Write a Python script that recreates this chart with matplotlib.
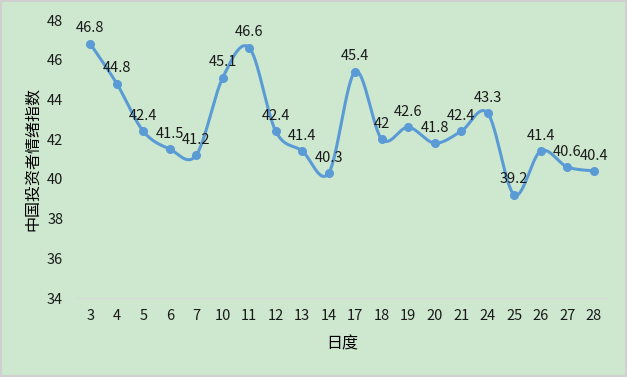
import numpy as np
import matplotlib.pyplot as plt
from matplotlib.patches import Rectangle

plt.rcParams['font.family'] = ['Noto Sans CJK SC', 'DejaVu Sans']

# 数据
days = ['3', '4', '5', '6', '7', '10', '11', '12', '13', '14',
        '17', '18', '19', '20', '21', '24', '25', '26', '27', '28']
values = [46.8, 44.8, 42.4, 41.5, 41.2, 45.1, 46.6, 42.4, 41.4, 40.3,
          45.4, 42, 42.6, 41.8, 42.4, 43.3, 39.2, 41.4, 40.6, 40.4]
yticks = [34, 36, 38, 40, 42, 44, 46, 48]

bg = '#cde8cf'
blue = '#5b9bd5'


def smooth(x, y, n=30):
    # Catmull-Rom 样式的平滑曲线（类似 Excel 平滑线）
    x = np.asarray(x, float)
    y = np.asarray(y, float)
    px = np.concatenate([[x[0]], x, [x[-1]]])
    py = np.concatenate([[y[0]], y, [y[-1]]])
    xs, ys = [], []
    t = np.linspace(0, 1, n)
    for i in range(1, len(px) - 2):
        p0 = np.array([px[i], py[i]])
        p3 = np.array([px[i + 1], py[i + 1]])
        p1 = p0 + (np.array([px[i + 1], py[i + 1]]) - np.array([px[i - 1], py[i - 1]])) / 6
        p2 = p3 - (np.array([px[i + 2], py[i + 2]]) - np.array([px[i], py[i]])) / 6
        b = ((1 - t) ** 3)[:, None] * p0 + (3 * (1 - t) ** 2 * t)[:, None] * p1 \
            + (3 * (1 - t) * t ** 2)[:, None] * p2 + (t ** 3)[:, None] * p3
        xs.extend(b[:, 0])
        ys.extend(b[:, 1])
    return np.array(xs), np.array(ys)


fig = plt.figure(figsize=(6.27, 3.77), dpi=100, facecolor=bg)
fig.patches.append(Rectangle((0, 0), 1, 1, transform=fig.transFigure,
                             fill=False, edgecolor='#d0d0d0', linewidth=3))
ax = fig.add_axes([77 / 627, 1 - 298 / 377, 530 / 627, 278 / 377])
ax.set_facecolor(bg)

x = np.arange(len(days))
sx, sy = smooth(x, values)
ax.plot(sx, sy, color=blue, linewidth=2.2, solid_capstyle='round')
ax.plot(x, values, 'o', color=blue, markersize=5.5)

for xi, v in zip(x, values):
    ax.annotate(f'{v:g}', (xi, v), textcoords='offset points', xytext=(0, 6),
                ha='center', va='bottom', fontsize=10.5, color='#1a1a1a')

ax.set_xlim(-0.5, len(days) - 0.5)
ax.set_ylim(34, 48)
ax.set_xticks(x)
ax.set_xticklabels(days)
ax.set_yticks(yticks)
ax.tick_params(length=0, labelsize=10.5, colors='#1a1a1a')
ax.tick_params(axis='y', pad=10)
ax.tick_params(axis='x', pad=8)

for s in ['top', 'right', 'left']:
    ax.spines[s].set_visible(False)
ax.spines['bottom'].set_color('#d9d9d9')
ax.spines['bottom'].set_linewidth(1)

ax.set_xlabel('日度', fontsize=11.5, labelpad=9)
ax.set_ylabel('中国投资者情绪指数', fontsize=11.5, labelpad=4)

fig.savefig('out.png', dpi=100, facecolor=bg)
